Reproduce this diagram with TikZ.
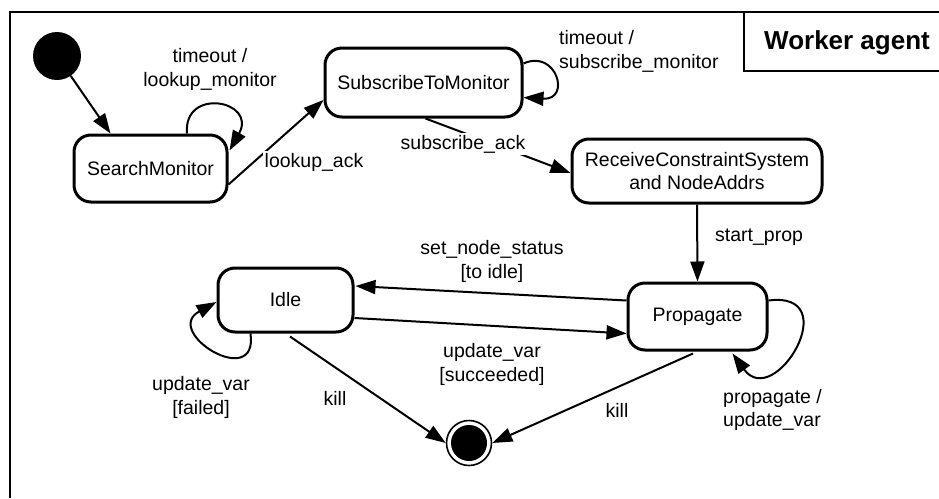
\documentclass[tikz,border=0pt]{standalone}
\usepackage{fontspec}
\setmainfont{Liberation Sans}
\usetikzlibrary{arrows.meta,calc}

\begin{document}
\begin{tikzpicture}[x=1pt,y=-1pt,
  every node/.style={font=\fontsize{19.5}{23.5}\selectfont, inner sep=2pt},
  statebox/.style={draw, line width=3pt, rounded corners=17pt, align=center},
  edge/.style={line width=2pt, -{Triangle[length=20pt,width=14pt]}},
  lbl/.style={fill=white, align=center},
  lbll/.style={fill=white, align=left, anchor=west},
  frame/.style={line width=2.4pt}]

\useasboundingbox (0,0) rectangle (939,498);

% outer frame and title tab
\draw[frame] (10,498) -- (10,12) -- (939,12);
\draw[line width=1.8pt] (744,12) -- (744,71) -- (939,71);
\node[font=\fontsize{26}{30}\selectfont\bfseries] (title) at (847,43) {Worker agent};

% states
\node[circle, fill=black, minimum size=48pt, inner sep=0pt] (init) at (57,56) {};
\node[statebox, minimum width=153pt, minimum height=67pt] (sm)   at (150.5,168.5) {SearchMonitor};
\node[statebox, minimum width=197pt, minimum height=69pt] (stm)  at (423.5,82.5) {SubscribeToMonitor};
\node[statebox, minimum width=250pt, minimum height=64pt] (rcv)  at (697,171) {ReceiveConstraintSystem\\and NodeAddrs};
\node[statebox, minimum width=139pt, minimum height=67pt] (prop) at (697.5,316.5) {Propagate};
\node[statebox, minimum width=135pt, minimum height=64pt] (idle) at (285.5,300) {Idle};
\node[circle, draw, line width=1.6pt, minimum size=45pt, inner sep=0pt] (fin) at (469,443) {};
\fill (fin.center) circle (18pt);

% transitions
\draw[edge] (init) -- ($(sm.north)+(-40,0)$);
\draw[edge] ($(sm.north)+(36.5,0)$) .. controls +(-4,-47) and +(28,-50) .. ($(sm.east)+(1,-18)$);
\draw[edge] ($(sm.east)+(0,16)$) -- ($(stm.west)+(0,17.5)$);
\draw[edge] ($(stm.east)+(0,-19)$) .. controls +(33,-15) and +(48,3) .. ($(stm.east)+(0,15)$);
\draw[edge] ($(stm.south)+(2,0)$) -- ($(rcv.west)+(0,2)$);
\draw[edge] (rcv.south) -- (prop.north);
\draw[edge] ($(prop.west)+(0,-16)$) -- ($(idle.east)+(1,-14)$);
\draw[edge] ($(idle.east)+(0,18)$) -- ($(prop.west)+(0,17)$);
\draw[edge] ($(idle.south)+(-35,0)$) .. controls +(8,58) and +(-55,30) .. ($(idle.west)+(0,2)$);
\draw[edge] ($(prop.east)+(0,-16)$) .. controls +(78,-10) and +(42,58) .. ($(prop.south)+(35,2)$);
\draw[edge] ($(idle.south)+(4.5,3)$) -- (fin.west);
\draw[edge] ($(prop.south)+(-4.5,2)$) -- (fin.east);

% transition labels
\node[lbl] (l1) at (210,69.5) {timeout /\\lookup\_monitor};
\node[lbl] (l2) at (314,162) {lookup\_ack};
\node[lbll] (l3) at (557,51.5) {timeout /\\subscribe\_monitor};
\node[lbl] (l4) at (463,144) {subscribe\_ack};
\node[lbll] (l5) at (713,237) {start\_prop};
\node[lbl] (l6) at (492,261.5) {set\_node\_status\\{[to idle]}};
\node[lbl] (l7) at (492,364.5) {update\_var\\{[succeeded]}};
\node[lbl] (l8) at (201,397.5) {update\_var\\{[failed]}};
\node[lbl] (l9) at (335,398) {kill};
\node[lbl] (l10) at (617,410) {kill};
\node[lbll] (l11) at (721,410) {propagate /\\update\_var};

\end{tikzpicture}
\end{document}
